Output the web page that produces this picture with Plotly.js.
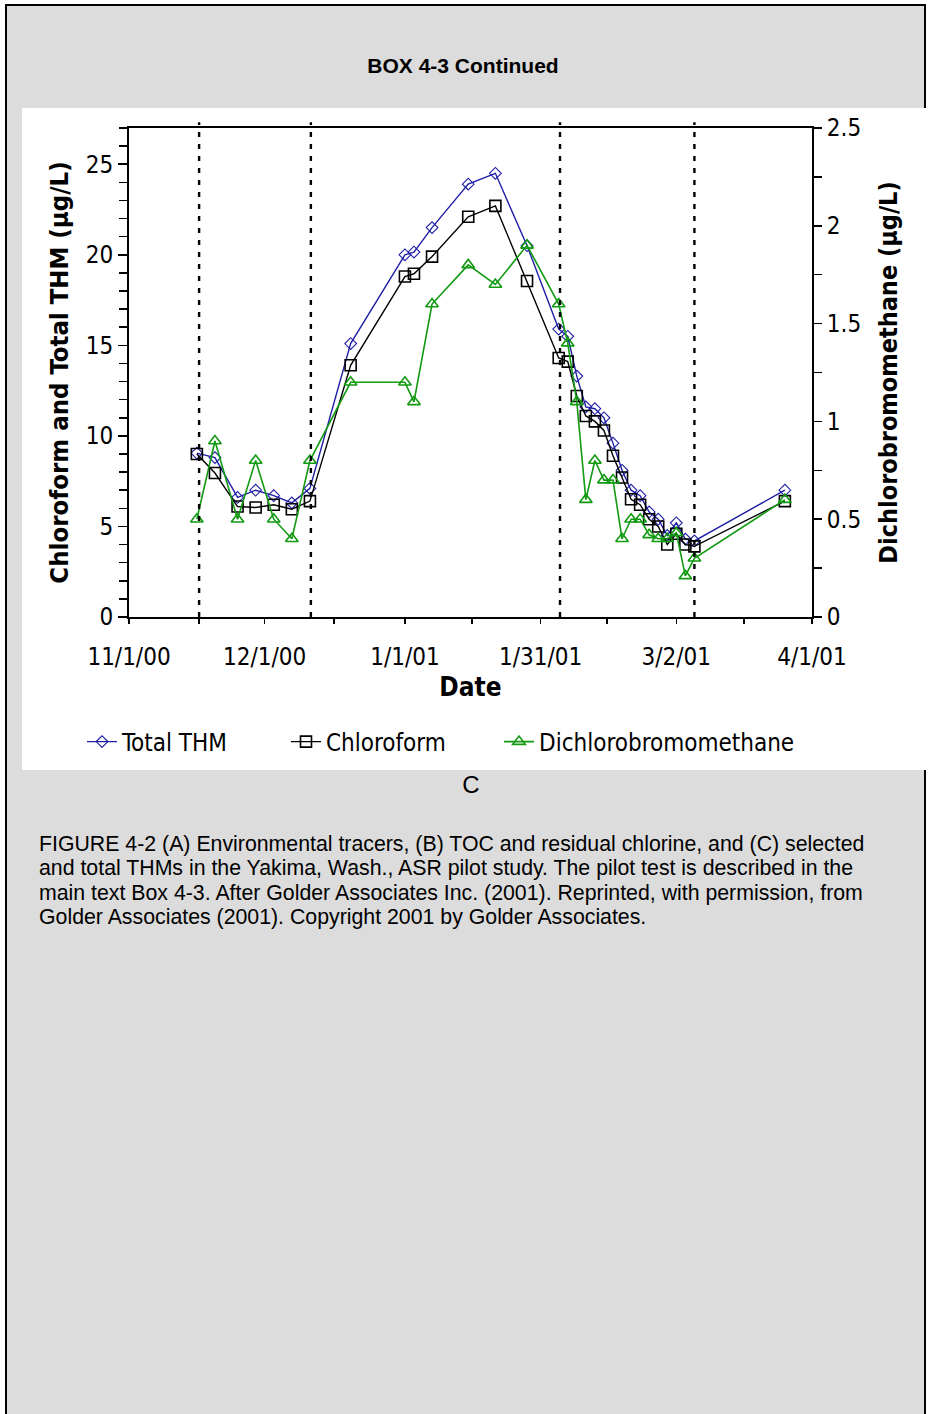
<!DOCTYPE html>
<html>
<head>
<meta charset="utf-8">
<script src="https://cdn.plot.ly/plotly-3.0.1.min.js"></script>
<style>
  html, body { margin: 0; padding: 0; background: #ffffff; }
  #frame { position: absolute; left: 5px; top: 4px; width: 921px; height: 1430px;
           background: #dcdcdc; border: 2px solid #000; box-sizing: border-box; }
  #boxtitle { position: absolute; left: 0; top: 54px; width: 926px; text-align: center;
              font-family: "Liberation Sans", Arial, sans-serif; font-weight: bold; font-size: 21px; color: #000; }
  #chart { position: absolute; left: 22px; top: 108px; width: 906px; height: 662px; background: #fff; }
  #panel { position: absolute; left: 0; top: 771px; width: 942px; text-align: center;
           font-family: "Liberation Sans", Arial, sans-serif; font-size: 24px; color: #000; }
  #caption { position: absolute; left: 39px; top: 832px; width: 885px;
             font-family: "Liberation Sans", Arial, sans-serif; font-size: 21.3px; line-height: 24.3px; color: #000; }
</style>
</head>
<body>
<div id="frame"></div>
<div id="boxtitle">BOX 4-3 Continued</div>
<div id="chart"></div>
<div id="panel">C</div>
<div id="caption">FIGURE 4-2 (A) Environmental tracers, (B) TOC and residual chlorine, and (C) selected<br>and total THMs in the Yakima, Wash., ASR pilot study. The pilot test is described in the<br>main text Box 4-3. After Golder Associates Inc. (2001). Reprinted, with permission, from<br>Golder Associates (2001). Copyright 2001 by Golder Associates.</div>
<script>
// ---- data ----
const sampleDates = ['2000-11-16','2000-11-20','2000-11-25','2000-11-29','2000-12-03','2000-12-07','2000-12-11',
  '2000-12-20','2001-01-01','2001-01-03','2001-01-07','2001-01-15','2001-01-21','2001-01-28',
  '2001-02-04','2001-02-06','2001-02-08','2001-02-10','2001-02-12','2001-02-14','2001-02-16','2001-02-18',
  '2001-02-20','2001-02-22','2001-02-24','2001-02-26','2001-02-28','2001-03-02','2001-03-04','2001-03-06',
  '2001-03-26'];
const totalTHM = [9.05, 8.8, 6.6, 7.0, 6.7, 6.3, 7.1,
  15.1, 20.0, 20.15, 21.5, 23.9, 24.5, 20.5,
  15.9, 15.5, 13.3, 11.6, 11.5, 11.0, 9.6, 8.1,
  7.0, 6.7, 5.8, 5.4, 4.5, 5.2, 4.3, 4.2,
  7.0];
const chloroform = [9.0, 7.95, 6.1, 6.05, 6.2, 5.95, 6.4,
  13.9, 18.8, 18.95, 19.9, 22.1, 22.7, 18.55,
  14.3, 14.1, 12.2, 11.1, 10.8, 10.3, 8.9, 7.7,
  6.5, 6.2, 5.4, 5.0, 4.0, 4.6, 4.0, 3.9,
  6.4];
const dichlorobromomethane = [0.5, 0.9, 0.5, 0.8, 0.5, 0.4, 0.8,
  1.2, 1.2, 1.1, 1.6, 1.8, 1.7, 1.9,
  1.6, 1.4, 1.1, 0.6, 0.8, 0.7, 0.7, 0.4,
  0.5, 0.5, 0.42, 0.4, 0.4, 0.43, 0.21, 0.3,
  0.6];
const eventDates = ['2000-11-16 12:00', '2000-12-11 05:00', '2001-02-04 07:00', '2001-03-06 00:00'];
const xTickVals = ['2000-11-01','2000-12-01','2001-01-01','2001-01-31','2001-03-02','2001-04-01'];
const xTickText = ['11/1/00','12/1/00','1/1/01','1/31/01','3/2/01','4/1/01'];
const xMinorVals = ['2000-11-16 12:00','2000-12-16 07:00','2001-01-15 19:00','2001-02-14 17:00','2001-03-17 00:00'];
const seriesNames = ['Total THM', 'Chloroform', 'Dichlorobromomethane'];

const NARROW = '"Liberation Sans Narrow", "Arial Narrow", "DejaVu Sans Condensed", sans-serif';
const BLUE = '#1e1ea6', GREEN = '#129a12';

const traces = [
  { x: sampleDates, y: totalTHM, name: seriesNames[0], type: 'scatter', mode: 'lines+markers',
    legend: 'legend',
    line: { color: BLUE, width: 1.4 },
    marker: { symbol: 'diamond-open', size: 9, color: BLUE, line: { color: '#333', width: 1.1 } } },
  { x: sampleDates, y: chloroform, name: seriesNames[1], type: 'scatter', mode: 'lines+markers',
    legend: 'legend2',
    line: { color: '#000', width: 1.4 },
    marker: { symbol: 'square-open', size: 11, color: '#000', line: { color: '#000', width: 1.6 } } },
  { x: sampleDates, y: dichlorobromomethane, name: seriesNames[2], type: 'scatter', mode: 'lines+markers',
    yaxis: 'y2', legend: 'legend3',
    line: { color: GREEN, width: 1.6 },
    marker: { symbol: 'triangle-up-open', size: 11, color: GREEN, line: { color: GREEN, width: 1.6 } } }
];

const shapes = eventDates.map(d => ({
  type: 'line', xref: 'x', yref: 'paper', x0: d, x1: d, y0: 0, y1: 1.012,
  line: { color: '#000', width: 2.4, dash: '5px,7px' }
}));

function legendAt(xpx) {
  return {
    orientation: 'h', xref: 'container', yref: 'container', x: xpx / 906, y: 1 - 634 / 662,
    xanchor: 'left', yanchor: 'middle', font: { family: NARROW, size: 24, color: '#000' },
    bgcolor: 'rgba(0,0,0,0)', itemwidth: 30
  };
}

const xRange = ['2000-11-01', '2001-04-01'];
const layout = {
  width: 906, height: 662,
  margin: { l: 107, r: 116, t: 20, b: 153 },
  paper_bgcolor: '#fff', plot_bgcolor: '#fff',
  showlegend: true,
  font: { family: NARROW, size: 24, color: '#000' },
  xaxis: {
    type: 'date', range: xRange, tickmode: 'array', tickvals: xTickVals, ticktext: xTickText,
    showline: true, linecolor: '#000', linewidth: 2, mirror: true,
    ticks: 'outside', ticklen: 5, tickwidth: 1.5, tickcolor: '#000',
    minor: { tickmode: 'array', tickvals: xMinorVals, ticks: 'outside', ticklen: 5, tickwidth: 1.5, tickcolor: '#000' },
    showgrid: false, zeroline: false, ticklabelstandoff: 12,
    tickfont: { family: NARROW, size: 24 },
    title: { text: '<b>Date</b>', font: { family: NARROW, size: 26 }, standoff: 8 }
  },
  xaxis2: {
    type: 'date', range: xRange, overlaying: 'x', anchor: 'y', side: 'bottom',
    tickmode: 'array', tickvals: xTickVals, ticks: 'inside', ticklen: 5, tickwidth: 1.5, tickcolor: '#000',
    showticklabels: false, showline: false, showgrid: false, zeroline: false
  },
  yaxis: {
    range: [0, 27], tickmode: 'linear', tick0: 0, dtick: 5,
    showline: true, linecolor: '#000', linewidth: 2,
    ticks: 'outside', ticklen: 9, tickwidth: 1.5, tickcolor: '#000',
    minor: { dtick: 1, ticks: 'outside', ticklen: 8, tickwidth: 1.5, tickcolor: '#000' },
    showgrid: false, zeroline: false,
    tickfont: { family: NARROW, size: 24 },
    title: { text: '<b>Chloroform and Total THM (µg/L)</b>', font: { family: NARROW, size: 25.5 }, standoff: 10 }
  },
  yaxis3: {
    range: [0, 27], overlaying: 'y', anchor: 'x', side: 'left', tickmode: 'linear', tick0: 0, dtick: 5,
    ticks: 'inside', ticklen: 5, tickwidth: 1.5, tickcolor: '#000',
    showticklabels: false, showline: false, showgrid: false, zeroline: false
  },
  yaxis2: {
    range: [0, 2.5], overlaying: 'y', side: 'right', anchor: 'x', tickmode: 'linear', tick0: 0, dtick: 0.5,
    showline: true, linecolor: '#000', linewidth: 2,
    ticks: 'outside', ticklen: 8, tickwidth: 1.5, tickcolor: '#000',
    minor: { dtick: 0.25, ticks: 'outside', ticklen: 8, tickwidth: 1.5, tickcolor: '#000' },
    showgrid: false, zeroline: false,
    tickfont: { family: NARROW, size: 24 },
    title: { text: '<b>Dichlorobromomethane (µg/L)</b>', font: { family: NARROW, size: 25 }, standoff: 19 }
  },
  yaxis4: {
    range: [0, 2.5], overlaying: 'y', anchor: 'x', side: 'right', tickmode: 'linear', tick0: 0, dtick: 0.5,
    ticks: 'inside', ticklen: 5, tickwidth: 1.5, tickcolor: '#000',
    showticklabels: false, showline: false, showgrid: false, zeroline: false
  },
  legend: legendAt(60),
  legend2: legendAt(264),
  legend3: legendAt(477),
  shapes: shapes
};

Plotly.newPlot('chart', traces, layout, { staticPlot: true, displayModeBar: false });
</script>
</body>
</html>
